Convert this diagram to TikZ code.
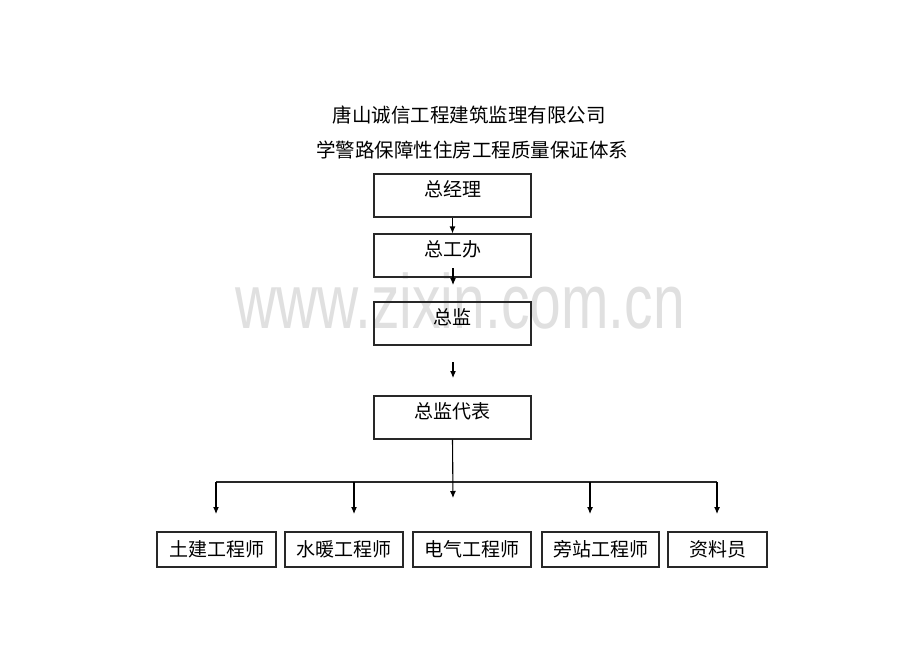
\documentclass[tikz,border=0pt]{standalone}
\usepackage{fontspec}
\setmainfont{Liberation Sans}
\newfontfamily\cjk{Noto Sans CJK SC}
\usetikzlibrary{arrows.meta}
\definecolor{wmgray}{RGB}{224,224,224}
\definecolor{linegray}{RGB}{40,40,40}
\tikzset{
  box/.style={draw=linegray, line width=1.1pt, minimum width=157pt, inner xsep=0pt, inner ysep=0.5pt,
    font=\cjk\fontsize{19}{19}\selectfont},
  topbox/.style={box, text height=22pt, text depth=20pt},
  lowbox/.style={box, minimum height=35pt, inner ysep=0pt, text height=18pt, text depth=5pt},
  arr/.style={draw=black, line width=1.1pt, -{Latex[length=7pt,width=6pt]}},
  ln/.style={draw=linegray, line width=1.1pt},
  ttl/.style={font=\cjk\fontsize{19.5}{19.5}\selectfont, inner sep=0pt},
}
\begin{document}
\begin{tikzpicture}[x=1pt,y=-1pt]
\useasboundingbox (0,0) rectangle (920,651);
\fill[white] (0,0) rectangle (920,651);
% watermark
\node[text=wmgray, font=\fontsize{77}{77}\selectfont, xscale=0.74, inner sep=0pt, anchor=base] (wm) at (460,328) {www.zixin.com.cn};
% titles
\node[ttl] (t1) at (469,115) {唐山诚信工程建筑监理有限公司};
\node[ttl] (t2) at (472,150) {学警路保障性住房工程质量保证体系};
% boxes
\node[topbox] (zjl) at (452.5,195.5) {总经理};
\node[topbox] (zgb) at (452.5,255.5) {总工办};
\node[topbox] (zj) at (452.5,323.5) {总监};
\node[topbox] (zjdb) at (452.5,417.5) {总监代表};
\node[lowbox, minimum width=119pt] (b1) at (216.5,549.5) {土建工程师};
\node[lowbox, minimum width=118pt] (b2) at (344,549.5) {水暖工程师};
\node[lowbox, minimum width=118pt] (b3) at (472,549.5) {电气工程师};
\node[lowbox, minimum width=117pt] (b4) at (600.5,549.5) {旁站工程师};
\node[lowbox, minimum width=99pt] (b5) at (717.5,549.5) {资料员};
% connectors
\coordinate (a2s) at (453,268);
\coordinate (a2e) at (453,285);
\coordinate (a3s) at (453,362);
\coordinate (a3e) at (453,378);
\coordinate (busL) at (216,482);
\coordinate (busR) at (717,482);
\coordinate (m) at (453,498);
\coordinate (d1s) at (216,482);
\coordinate (d1e) at (216,514);
\coordinate (d2s) at (354,482);
\coordinate (d2e) at (354,514);
\coordinate (d4s) at (590,482);
\coordinate (d4e) at (590,514);
\coordinate (d5s) at (717,482);
\coordinate (d5e) at (717,514);
\draw[arr] (zjl.south) -- (zgb.north);
\draw[arr] (a2s) -- (a2e);
\draw[arr] (a3s) -- (a3e);
\draw[ln] (busL) -- (busR);
\draw[arr] (zjdb.south) -- (m);
\draw[arr] (d1s) -- (d1e);
\draw[arr] (d2s) -- (d2e);
\draw[arr] (d4s) -- (d4e);
\draw[arr] (d5s) -- (d5e);
\end{tikzpicture}
\end{document}
